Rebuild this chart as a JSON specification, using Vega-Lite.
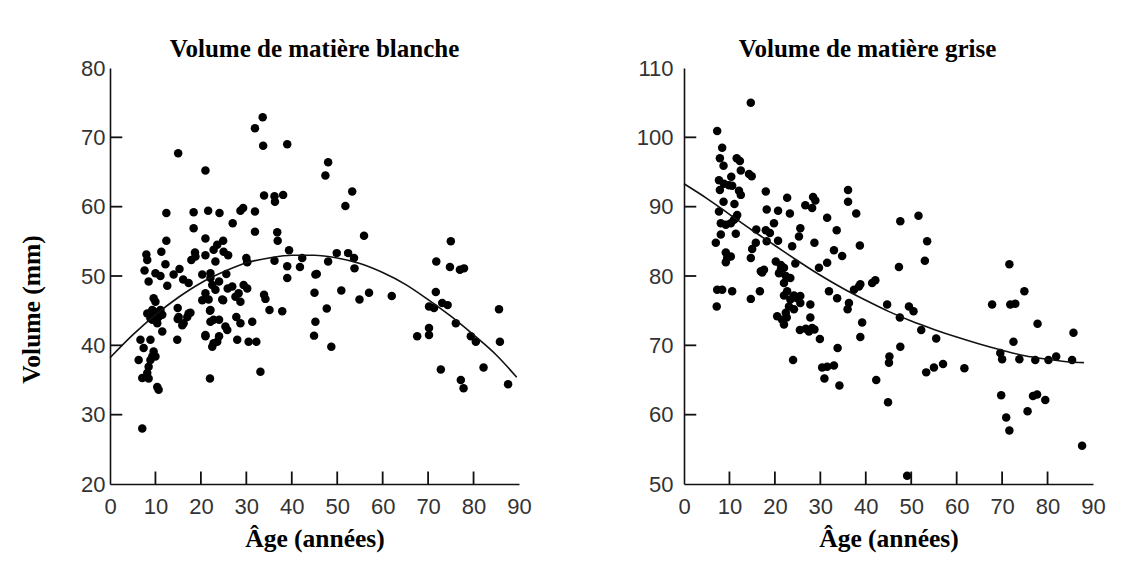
{
  "$schema": "https://vega.github.io/schema/vega-lite/v6.json",
  "background": "white",
  "padding": {"left": 19, "top": 37, "right": 5, "bottom": 5},
  "bounds": "flush",
  "spacing": 165,
  "config": {
    "view": {"stroke": null},
    "axis": {
      "grid": false,
      "zindex": 1,
      "domainColor": "#111",
      "domainWidth": 1.6,
      "ticks": false,
      "tickSize": 0,
      "labelFont": "Liberation Sans",
      "labelFontSize": 22,
      "labelColor": "#333",
      "labelFlush": false,
      "labelOverlap": false,
      "titleFont": "Liberation Serif",
      "titleFontWeight": "bold",
      "titleFontSize": 25.5,
      "titleColor": "#000"
    },
    "title": {
      "font": "Liberation Serif",
      "fontWeight": "bold",
      "fontSize": 25,
      "color": "#000",
      "frame": "group",
      "baseline": "alphabetic",
      "offset": -5
    }
  },
  "datasets": {
    "xticks": [{"tick": 10}, {"tick": 20}, {"tick": 30}, {"tick": 40}, {"tick": 50}, {"tick": 60}, {"tick": 70}, {"tick": 80}],
    "yticksW": [{"tick": 30}, {"tick": 40}, {"tick": 50}, {"tick": 60}, {"tick": 70}],
    "yticksG": [{"tick": 60}, {"tick": 70}, {"tick": 80}, {"tick": 90}, {"tick": 100}],
    "white": [
      {"age": 33.6, "volume": 72.9}, {"age": 31.9, "volume": 71.3}, {"age": 33.7, "volume": 68.8}, {"age": 39.0, "volume": 69.0},
      {"age": 15.0, "volume": 67.7}, {"age": 21.0, "volume": 65.2}, {"age": 48.0, "volume": 66.4}, {"age": 47.4, "volume": 64.5},
      {"age": 53.3, "volume": 62.2}, {"age": 51.8, "volume": 60.1}, {"age": 33.9, "volume": 61.6}, {"age": 36.2, "volume": 61.5},
      {"age": 36.3, "volume": 60.7}, {"age": 38.1, "volume": 61.7}, {"age": 12.4, "volume": 59.1}, {"age": 18.4, "volume": 59.2},
      {"age": 21.6, "volume": 59.4}, {"age": 24.1, "volume": 59.1}, {"age": 28.7, "volume": 59.4}, {"age": 29.3, "volume": 59.8},
      {"age": 31.9, "volume": 59.3}, {"age": 27.0, "volume": 57.6}, {"age": 18.4, "volume": 56.9}, {"age": 31.9, "volume": 56.4},
      {"age": 36.8, "volume": 56.3}, {"age": 36.9, "volume": 55.1}, {"age": 55.9, "volume": 55.8}, {"age": 12.4, "volume": 55.1},
      {"age": 21.0, "volume": 55.4}, {"age": 24.9, "volume": 55.1}, {"age": 23.6, "volume": 54.5}, {"age": 22.8, "volume": 53.8},
      {"age": 75.0, "volume": 55.0}, {"age": 8.0, "volume": 53.1}, {"age": 8.2, "volume": 52.3}, {"age": 11.3, "volume": 53.5},
      {"age": 12.2, "volume": 51.7}, {"age": 18.7, "volume": 53.4}, {"age": 17.9, "volume": 52.3}, {"age": 21.0, "volume": 53.0},
      {"age": 23.2, "volume": 52.1}, {"age": 26.0, "volume": 53.0}, {"age": 30.0, "volume": 52.6}, {"age": 39.4, "volume": 53.7},
      {"age": 36.2, "volume": 52.2}, {"age": 39.0, "volume": 51.4}, {"age": 42.3, "volume": 52.6}, {"age": 41.8, "volume": 51.3},
      {"age": 45.5, "volume": 50.3}, {"age": 48.0, "volume": 52.1}, {"age": 49.9, "volume": 53.3}, {"age": 52.4, "volume": 53.3},
      {"age": 53.7, "volume": 52.6}, {"age": 53.8, "volume": 51.1}, {"age": 71.8, "volume": 52.1}, {"age": 74.8, "volume": 51.3},
      {"age": 77.0, "volume": 50.9}, {"age": 77.9, "volume": 51.1}, {"age": 7.6, "volume": 50.8}, {"age": 10.0, "volume": 50.4},
      {"age": 11.1, "volume": 50.0}, {"age": 15.3, "volume": 51.0}, {"age": 14.0, "volume": 50.2}, {"age": 20.3, "volume": 50.2},
      {"age": 22.1, "volume": 50.4}, {"age": 25.6, "volume": 50.3}, {"age": 18.8, "volume": 52.8}, {"age": 25.0, "volume": 53.5},
      {"age": 30.2, "volume": 52.0}, {"age": 8.5, "volume": 49.2}, {"age": 12.6, "volume": 48.6}, {"age": 16.1, "volume": 49.5},
      {"age": 17.3, "volume": 49.0}, {"age": 20.3, "volume": 46.5}, {"age": 22.1, "volume": 49.7}, {"age": 22.5, "volume": 48.7},
      {"age": 23.2, "volume": 48.0}, {"age": 24.0, "volume": 49.2}, {"age": 21.7, "volume": 46.6}, {"age": 24.9, "volume": 46.5},
      {"age": 25.9, "volume": 48.2}, {"age": 27.6, "volume": 47.0}, {"age": 28.3, "volume": 47.5}, {"age": 28.7, "volume": 46.3},
      {"age": 29.4, "volume": 48.7}, {"age": 30.2, "volume": 48.2}, {"age": 9.6, "volume": 46.8}, {"age": 10.0, "volume": 46.3},
      {"age": 8.2, "volume": 44.6}, {"age": 9.3, "volume": 45.1}, {"age": 10.0, "volume": 43.9}, {"age": 11.5, "volume": 44.4},
      {"age": 8.9, "volume": 43.9}, {"age": 11.1, "volume": 45.1}, {"age": 9.6, "volume": 44.9}, {"age": 10.7, "volume": 44.1},
      {"age": 10.4, "volume": 43.2}, {"age": 9.3, "volume": 43.7}, {"age": 11.5, "volume": 42.0}, {"age": 14.9, "volume": 45.4},
      {"age": 14.9, "volume": 43.8}, {"age": 16.2, "volume": 43.2}, {"age": 17.0, "volume": 44.1}, {"age": 17.7, "volume": 44.7},
      {"age": 15.9, "volume": 42.9}, {"age": 15.1, "volume": 44.1}, {"age": 14.8, "volume": 40.8}, {"age": 21.0, "volume": 41.3},
      {"age": 22.8, "volume": 40.3}, {"age": 23.6, "volume": 40.5}, {"age": 22.5, "volume": 39.8}, {"age": 22.0, "volume": 45.0},
      {"age": 22.1, "volume": 43.4}, {"age": 24.0, "volume": 43.7}, {"age": 24.7, "volume": 46.6}, {"age": 25.4, "volume": 42.7},
      {"age": 25.8, "volume": 42.2}, {"age": 27.8, "volume": 44.1}, {"age": 28.7, "volume": 43.2}, {"age": 28.0, "volume": 40.8},
      {"age": 31.3, "volume": 43.4}, {"age": 30.5, "volume": 40.5}, {"age": 32.2, "volume": 40.5}, {"age": 33.9, "volume": 47.3},
      {"age": 34.2, "volume": 46.7}, {"age": 35.1, "volume": 45.1}, {"age": 37.9, "volume": 44.9}, {"age": 39.0, "volume": 49.7},
      {"age": 33.1, "volume": 36.2}, {"age": 22.0, "volume": 35.2}, {"age": 45.2, "volume": 50.2}, {"age": 45.0, "volume": 47.6},
      {"age": 45.2, "volume": 43.4}, {"age": 44.9, "volume": 41.4}, {"age": 47.7, "volume": 45.3}, {"age": 48.7, "volume": 39.8},
      {"age": 50.9, "volume": 47.9}, {"age": 54.9, "volume": 46.6}, {"age": 57.0, "volume": 47.6}, {"age": 62.0, "volume": 47.1},
      {"age": 67.6, "volume": 41.3}, {"age": 70.2, "volume": 42.5}, {"age": 70.2, "volume": 41.5}, {"age": 71.7, "volume": 47.7},
      {"age": 70.2, "volume": 45.6}, {"age": 71.3, "volume": 45.4}, {"age": 73.1, "volume": 46.1}, {"age": 74.3, "volume": 45.8},
      {"age": 76.1, "volume": 43.2}, {"age": 72.8, "volume": 36.5}, {"age": 77.2, "volume": 35.0}, {"age": 77.8, "volume": 33.8},
      {"age": 79.4, "volume": 41.3}, {"age": 80.5, "volume": 40.5}, {"age": 82.2, "volume": 36.8}, {"age": 85.6, "volume": 45.2},
      {"age": 85.8, "volume": 40.5}, {"age": 87.6, "volume": 34.4}, {"age": 7.1, "volume": 28.0}, {"age": 6.3, "volume": 37.9},
      {"age": 7.1, "volume": 35.3}, {"age": 8.2, "volume": 36.0}, {"age": 7.4, "volume": 39.6}, {"age": 8.9, "volume": 40.8},
      {"age": 9.6, "volume": 39.1}, {"age": 8.9, "volume": 37.9}, {"age": 8.5, "volume": 36.9}, {"age": 6.7, "volume": 40.8},
      {"age": 9.3, "volume": 38.4}, {"age": 8.5, "volume": 35.2}, {"age": 10.0, "volume": 38.4}, {"age": 10.4, "volume": 34.0},
      {"age": 10.7, "volume": 33.6}, {"age": 21.0, "volume": 47.5}, {"age": 26.9, "volume": 48.5}, {"age": 17.3, "volume": 44.6},
      {"age": 21.0, "volume": 41.5}, {"age": 24.0, "volume": 41.3}, {"age": 22.1, "volume": 45.1}, {"age": 22.8, "volume": 43.7}
    ],
    "whiteFit": [
      {"age": 0, "volume": 38.2}, {"age": 5, "volume": 41.5}, {"age": 10, "volume": 44.4}, {"age": 15, "volume": 46.9},
      {"age": 20, "volume": 49.0}, {"age": 25, "volume": 50.6}, {"age": 30, "volume": 51.9}, {"age": 35, "volume": 52.6},
      {"age": 40, "volume": 53.0}, {"age": 45, "volume": 53.0}, {"age": 50, "volume": 52.6}, {"age": 55, "volume": 51.8},
      {"age": 60, "volume": 50.5}, {"age": 65, "volume": 48.8}, {"age": 70, "volume": 46.6}, {"age": 75, "volume": 44.2},
      {"age": 80, "volume": 41.5}, {"age": 85, "volume": 38.6}, {"age": 89.5, "volume": 35.4}
    ],
    "gray": [
      {"age": 14.7, "volume": 105.0}, {"age": 7.3, "volume": 100.9}, {"age": 8.4, "volume": 98.5}, {"age": 7.9, "volume": 97.0},
      {"age": 8.7, "volume": 95.9}, {"age": 11.6, "volume": 97.0}, {"age": 12.3, "volume": 96.6}, {"age": 10.4, "volume": 94.3},
      {"age": 12.5, "volume": 95.2}, {"age": 14.3, "volume": 94.7}, {"age": 14.9, "volume": 94.4}, {"age": 7.7, "volume": 93.8},
      {"age": 8.8, "volume": 93.3}, {"age": 9.9, "volume": 93.1}, {"age": 10.6, "volume": 93.0}, {"age": 7.9, "volume": 92.4},
      {"age": 12.1, "volume": 92.3}, {"age": 12.5, "volume": 91.7}, {"age": 18.0, "volume": 92.2}, {"age": 22.7, "volume": 91.3},
      {"age": 28.4, "volume": 91.4}, {"age": 28.9, "volume": 90.9}, {"age": 26.7, "volume": 90.2}, {"age": 28.2, "volume": 89.8},
      {"age": 36.1, "volume": 92.4}, {"age": 36.1, "volume": 90.7}, {"age": 8.7, "volume": 90.7}, {"age": 11.1, "volume": 90.4},
      {"age": 18.2, "volume": 89.6}, {"age": 20.7, "volume": 89.4}, {"age": 23.3, "volume": 89.0}, {"age": 7.7, "volume": 89.3},
      {"age": 11.7, "volume": 88.8}, {"age": 11.4, "volume": 88.4}, {"age": 31.5, "volume": 88.4}, {"age": 37.9, "volume": 89.0},
      {"age": 47.6, "volume": 87.9}, {"age": 51.6, "volume": 88.7}, {"age": 8.1, "volume": 87.6}, {"age": 9.2, "volume": 87.4},
      {"age": 10.3, "volume": 87.6}, {"age": 11.0, "volume": 88.1}, {"age": 8.1, "volume": 86.0}, {"age": 11.4, "volume": 86.1},
      {"age": 7.0, "volume": 84.8}, {"age": 15.9, "volume": 86.7}, {"age": 18.0, "volume": 86.6}, {"age": 18.9, "volume": 86.2},
      {"age": 19.8, "volume": 87.6}, {"age": 18.2, "volume": 85.0}, {"age": 20.7, "volume": 85.1}, {"age": 25.6, "volume": 86.9},
      {"age": 25.3, "volume": 85.7}, {"age": 28.7, "volume": 84.8}, {"age": 33.6, "volume": 86.6}, {"age": 38.7, "volume": 84.4},
      {"age": 53.5, "volume": 85.0}, {"age": 15.8, "volume": 84.8}, {"age": 15.0, "volume": 83.9}, {"age": 14.7, "volume": 82.6},
      {"age": 23.8, "volume": 84.3}, {"age": 9.2, "volume": 83.4}, {"age": 9.5, "volume": 82.6}, {"age": 9.2, "volume": 82.0},
      {"age": 10.3, "volume": 82.8}, {"age": 16.9, "volume": 80.7}, {"age": 17.6, "volume": 80.9}, {"age": 20.2, "volume": 82.1},
      {"age": 21.3, "volume": 81.6}, {"age": 22.0, "volume": 81.2}, {"age": 24.5, "volume": 81.8}, {"age": 33.0, "volume": 83.7},
      {"age": 34.8, "volume": 82.9}, {"age": 31.5, "volume": 81.9}, {"age": 29.7, "volume": 81.2}, {"age": 47.3, "volume": 81.3},
      {"age": 53.0, "volume": 82.2}, {"age": 71.6, "volume": 81.7}, {"age": 21.3, "volume": 80.9}, {"age": 22.4, "volume": 80.0},
      {"age": 23.4, "volume": 79.7}, {"age": 22.0, "volume": 79.0}, {"age": 20.9, "volume": 80.4}, {"age": 17.2, "volume": 80.5},
      {"age": 7.3, "volume": 78.0}, {"age": 8.4, "volume": 78.0}, {"age": 10.6, "volume": 77.8}, {"age": 7.2, "volume": 75.6},
      {"age": 14.7, "volume": 76.7}, {"age": 16.7, "volume": 77.8}, {"age": 22.7, "volume": 77.8}, {"age": 23.4, "volume": 76.6},
      {"age": 23.1, "volume": 75.6}, {"age": 22.4, "volume": 74.7}, {"age": 21.6, "volume": 73.7}, {"age": 24.9, "volume": 76.8},
      {"age": 25.6, "volume": 76.1}, {"age": 24.2, "volume": 75.2}, {"age": 27.8, "volume": 75.9}, {"age": 31.9, "volume": 77.8},
      {"age": 33.7, "volume": 76.8}, {"age": 36.3, "volume": 76.1}, {"age": 37.4, "volume": 78.0}, {"age": 38.5, "volume": 78.5},
      {"age": 41.4, "volume": 79.0}, {"age": 42.1, "volume": 79.4}, {"age": 44.7, "volume": 75.9}, {"age": 22.0, "volume": 77.2},
      {"age": 24.2, "volume": 77.2}, {"age": 25.6, "volume": 77.1}, {"age": 20.5, "volume": 74.2}, {"age": 22.6, "volume": 74.0},
      {"age": 22.0, "volume": 73.0}, {"age": 27.8, "volume": 74.0}, {"age": 25.5, "volume": 72.2}, {"age": 26.8, "volume": 72.4},
      {"age": 27.5, "volume": 72.0}, {"age": 28.2, "volume": 72.5}, {"age": 28.7, "volume": 72.3}, {"age": 29.9, "volume": 70.9},
      {"age": 24.0, "volume": 67.9}, {"age": 30.4, "volume": 66.8}, {"age": 31.5, "volume": 66.9}, {"age": 33.0, "volume": 67.1},
      {"age": 30.9, "volume": 65.2}, {"age": 33.8, "volume": 69.6}, {"age": 34.2, "volume": 64.2}, {"age": 36.0, "volume": 75.2},
      {"age": 38.8, "volume": 78.8}, {"age": 39.2, "volume": 73.3}, {"age": 38.8, "volume": 71.2}, {"age": 42.3, "volume": 65.0},
      {"age": 45.2, "volume": 68.4}, {"age": 45.1, "volume": 67.5}, {"age": 44.9, "volume": 61.8}, {"age": 47.5, "volume": 74.0},
      {"age": 47.6, "volume": 69.8}, {"age": 49.1, "volume": 51.2}, {"age": 49.5, "volume": 75.6}, {"age": 50.5, "volume": 74.9},
      {"age": 52.2, "volume": 72.2}, {"age": 55.5, "volume": 71.0}, {"age": 53.3, "volume": 66.1}, {"age": 55.0, "volume": 66.8},
      {"age": 57.0, "volume": 67.3}, {"age": 61.7, "volume": 66.7}, {"age": 67.8, "volume": 75.9}, {"age": 69.6, "volume": 68.9},
      {"age": 70.0, "volume": 68.0}, {"age": 69.8, "volume": 62.8}, {"age": 70.9, "volume": 59.6}, {"age": 71.6, "volume": 57.7},
      {"age": 71.8, "volume": 75.9}, {"age": 72.9, "volume": 76.0}, {"age": 72.5, "volume": 70.5}, {"age": 73.8, "volume": 68.0},
      {"age": 74.9, "volume": 77.8}, {"age": 75.6, "volume": 60.5}, {"age": 76.8, "volume": 62.7}, {"age": 77.7, "volume": 62.9},
      {"age": 77.3, "volume": 67.9}, {"age": 77.8, "volume": 73.1}, {"age": 79.5, "volume": 62.1}, {"age": 80.2, "volume": 67.9},
      {"age": 81.9, "volume": 68.4}, {"age": 85.4, "volume": 67.9}, {"age": 85.7, "volume": 71.8}, {"age": 87.6, "volume": 55.5}
    ],
    "grayFit": [
      {"age": 0, "volume": 93.3}, {"age": 5, "volume": 91.2}, {"age": 10, "volume": 88.9}, {"age": 15, "volume": 86.6},
      {"age": 20, "volume": 84.4}, {"age": 25, "volume": 82.2}, {"age": 30, "volume": 80.1}, {"age": 35, "volume": 78.2},
      {"age": 40, "volume": 76.5}, {"age": 45, "volume": 74.9}, {"age": 50, "volume": 73.5}, {"age": 55, "volume": 72.3},
      {"age": 60, "volume": 71.2}, {"age": 65, "volume": 70.2}, {"age": 70, "volume": 69.3}, {"age": 75, "volume": 68.5},
      {"age": 80, "volume": 68.0}, {"age": 85, "volume": 67.6}, {"age": 88, "volume": 67.5}
    ]
  },
  "hconcat": [
    {
      "width": 409,
      "height": 416,
      "title": {"text": "Volume de matière blanche"},
      "layer": [
        {
          "data": {"name": "white"},
          "mark": {"type": "circle", "size": 72, "color": "#000", "opacity": 1},
          "encoding": {
            "x": {"field": "age", "type": "quantitative", "scale": {"domain": [0, 90], "nice": false},
                  "axis": {"title": "Âge (années)", "values": [0, 10, 20, 30, 40, 50, 60, 70, 80, 90], "labelPadding": 12, "titlePadding": 9}},
            "y": {"field": "volume", "type": "quantitative", "scale": {"domain": [20, 80], "nice": false},
                  "axis": {"title": "Volume (mm)", "values": [20, 30, 40, 50, 60, 70, 80], "labelPadding": 5, "titlePadding": 36, "titleY": 241}}
          }
        },
        {
          "data": {"name": "xticks"},
          "mark": {"type": "rule", "color": "#111", "strokeWidth": 1.8},
          "encoding": {
            "x": {"field": "tick", "type": "quantitative"},
            "y": {"datum": 20},
            "y2": {"datum": 21.8}
          }
        },
        {
          "data": {"name": "yticksW"},
          "mark": {"type": "rule", "color": "#111", "strokeWidth": 1.8},
          "encoding": {
            "y": {"field": "tick", "type": "quantitative"},
            "x": {"datum": 0},
            "x2": {"datum": 2.7}
          }
        },
        {
          "data": {"name": "whiteFit"},
          "mark": {"type": "line", "color": "#111", "strokeWidth": 1.6, "interpolate": "monotone"},
          "encoding": {
            "x": {"field": "age", "type": "quantitative"},
            "y": {"field": "volume", "type": "quantitative"}
          }
        }
      ]
    },
    {
      "width": 409,
      "height": 416,
      "title": {"text": "Volume de matière grise", "dx": -21},
      "layer": [
        {
          "data": {"name": "gray"},
          "mark": {"type": "circle", "size": 72, "color": "#000", "opacity": 1},
          "encoding": {
            "x": {"field": "age", "type": "quantitative", "scale": {"domain": [0, 90], "nice": false},
                  "axis": {"title": "Âge (années)", "values": [0, 10, 20, 30, 40, 50, 60, 70, 80, 90], "labelPadding": 12, "titlePadding": 9}},
            "y": {"field": "volume", "type": "quantitative", "scale": {"domain": [50, 110], "nice": false},
                  "axis": {"title": null, "values": [50, 60, 70, 80, 90, 100, 110], "labelPadding": 11}}
          }
        },
        {
          "data": {"name": "xticks"},
          "mark": {"type": "rule", "color": "#111", "strokeWidth": 1.8},
          "encoding": {
            "x": {"field": "tick", "type": "quantitative"},
            "y": {"datum": 50},
            "y2": {"datum": 51.8}
          }
        },
        {
          "data": {"name": "yticksG"},
          "mark": {"type": "rule", "color": "#111", "strokeWidth": 1.8},
          "encoding": {
            "y": {"field": "tick", "type": "quantitative"},
            "x": {"datum": 0},
            "x2": {"datum": 2.7}
          }
        },
        {
          "data": {"name": "grayFit"},
          "mark": {"type": "line", "color": "#111", "strokeWidth": 1.6, "interpolate": "monotone"},
          "encoding": {
            "x": {"field": "age", "type": "quantitative"},
            "y": {"field": "volume", "type": "quantitative"}
          }
        }
      ]
    }
  ]
}
